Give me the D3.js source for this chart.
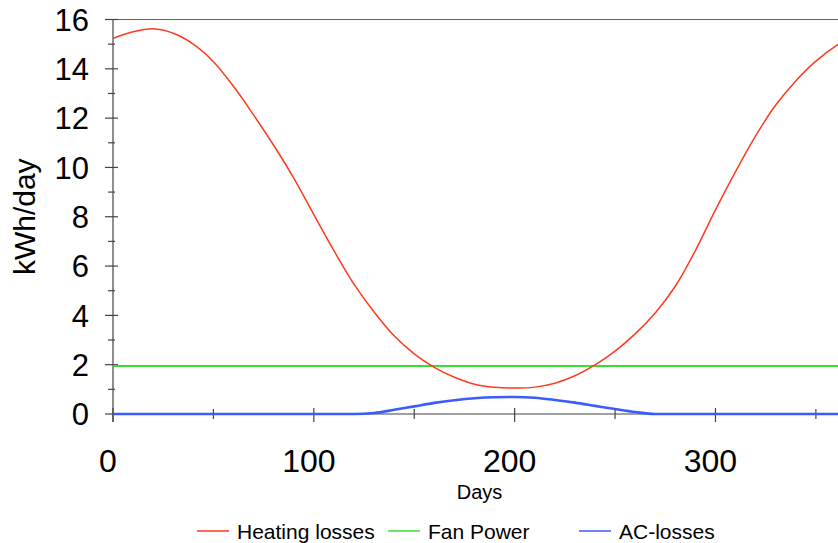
<!DOCTYPE html>
<html>
<head>
<meta charset="utf-8">
<script src="https://cdn.jsdelivr.net/npm/d3@7"></script>
<style>
  html, body { margin: 0; padding: 0; background: #ffffff; }
  svg { display: block; font-family: "Liberation Sans", Arial, sans-serif; }
</style>
</head>
<body>
<svg id="chart" width="838" height="543"></svg>
<script>
// ---- data ----
const days = [0,10,20,30,40,50,60,70,80,90,100,110,120,130,140,150,160,170,180,190,200,210,220,230,240,250,260,270,280,290,300,310,320,330,340,350,360,365];
const heatingLosses = [15.23,15.50,15.62,15.44,15.00,14.29,13.29,12.13,10.90,9.57,8.09,6.63,5.27,4.14,3.17,2.44,1.89,1.49,1.21,1.08,1.05,1.09,1.25,1.55,1.99,2.55,3.25,4.10,5.18,6.63,8.28,9.83,11.28,12.53,13.51,14.31,14.93,15.15];
const fanPower = [1.95,1.95,1.95,1.95,1.95,1.95,1.95,1.95,1.95,1.95,1.95,1.95,1.95,1.95,1.95,1.95,1.95,1.95,1.95,1.95,1.95,1.95,1.95,1.95,1.95,1.95,1.95,1.95,1.95,1.95,1.95,1.95,1.95,1.95,1.95,1.95,1.95,1.95];
const acLosses = [0,0,0,0,0,0,0,0,0,0,0,0,0,0.04,0.17,0.31,0.45,0.56,0.64,0.68,0.69,0.66,0.57,0.46,0.33,0.20,0.08,0,0,0,0,0,0,0,0,0,0,0];
const seriesNames = ["Heating losses", "Fan Power", "AC-losses"];
const seriesColors = ["#ff3a1e", "#33e033", "#3a5cff"];
const xMajorTicks = [0, 100, 200, 300];
const xMinorTicks = [50, 150, 250, 350];
const yMajorTicks = [0, 2, 4, 6, 8, 10, 12, 14, 16];
const yMinorTicks = [1, 3, 5, 7, 9, 11, 13, 15];

// ---- layout ----
const svg = d3.select("#chart");
const plotL = 113, plotR = 846, plotT = 19.5, plotB = 414;
const x = d3.scaleLinear().domain([0, 365]).range([plotL, plotR]);
const y = d3.scaleLinear().domain([0, 16]).range([plotB, plotT]);
const axisColor = "#444";

// top border
svg.append("line").attr("x1", plotL - 8).attr("x2", 838).attr("y1", y(16)).attr("y2", y(16))
  .attr("stroke", "#666").attr("stroke-width", 1.2);

// y axis line
svg.append("line").attr("x1", plotL).attr("x2", plotL).attr("y1", plotT).attr("y2", plotB + 8)
  .attr("stroke", axisColor).attr("stroke-width", 1.2);
// x axis line
svg.append("line").attr("x1", plotL).attr("x2", 838).attr("y1", plotB).attr("y2", plotB)
  .attr("stroke", axisColor).attr("stroke-width", 1.2);

// y ticks
svg.selectAll("line.ymaj").data(yMajorTicks).enter().append("line")
  .attr("x1", plotL - 8).attr("x2", plotL + 5).attr("y1", d => y(d)).attr("y2", d => y(d))
  .attr("stroke", axisColor).attr("stroke-width", 1.2);
svg.selectAll("line.ymin").data(yMinorTicks).enter().append("line")
  .attr("x1", plotL - 5).attr("x2", plotL + 2).attr("y1", d => y(d)).attr("y2", d => y(d))
  .attr("stroke", axisColor).attr("stroke-width", 1.2);
svg.selectAll("text.ylab").data(yMajorTicks).enter().append("text")
  .attr("x", 89).attr("y", d => y(d)).attr("dy", "0.36em")
  .attr("text-anchor", "end").attr("font-size", 31).attr("fill", "#000")
  .text(d => d);

// x ticks
svg.selectAll("line.xmaj").data(xMajorTicks).enter().append("line")
  .attr("x1", d => x(d)).attr("x2", d => x(d)).attr("y1", plotB - 6).attr("y2", plotB + 8)
  .attr("stroke", axisColor).attr("stroke-width", 1.2);
svg.selectAll("line.xmin").data(xMinorTicks).enter().append("line")
  .attr("x1", d => x(d)).attr("x2", d => x(d)).attr("y1", plotB - 5).attr("y2", plotB + 5)
  .attr("stroke", axisColor).attr("stroke-width", 1.2);
svg.selectAll("text.xlab").data(xMajorTicks).enter().append("text")
  .attr("x", d => x(d) - 5).attr("y", 471.5)
  .attr("text-anchor", "middle").attr("font-size", 32).attr("fill", "#000")
  .text(d => d);

// axis titles
svg.append("text").attr("x", (plotL + plotR) / 2).attr("y", 499)
  .attr("text-anchor", "middle").attr("font-size", 20).attr("fill", "#000").text("Days");
svg.append("text").attr("transform", `translate(35,${(plotT + plotB) / 2}) rotate(-90)`)
  .attr("text-anchor", "middle").attr("font-size", 30).attr("fill", "#000").text("kWh/day");

// series
const series = [heatingLosses, fanPower, acLosses];
const widths = [1.5, 2, 2.6];
const curves = [d3.curveCatmullRom, d3.curveLinear, d3.curveMonotoneX];
const drawOrder = [1, 2, 0];
drawOrder.forEach(i => {
  const line = d3.line().x((d, j) => x(days[j])).y(d => y(d)).curve(curves[i]);
  svg.append("path").datum(series[i]).attr("d", line)
    .attr("fill", "none").attr("stroke", seriesColors[i]).attr("stroke-width", widths[i])
    .attr("stroke-linejoin", "round");
});

// legend
const legendLineX = [197, 388, 579];
const legendY = 531;
seriesNames.forEach((name, i) => {
  svg.append("line").attr("x1", legendLineX[i]).attr("x2", legendLineX[i] + 32)
    .attr("y1", legendY).attr("y2", legendY)
    .attr("stroke", seriesColors[i]).attr("stroke-width", 1.5);
  svg.append("text").attr("x", legendLineX[i] + 40).attr("y", 538.5)
    .attr("font-size", 21).attr("fill", "#000").text(name);
});
</script>
</body>
</html>
